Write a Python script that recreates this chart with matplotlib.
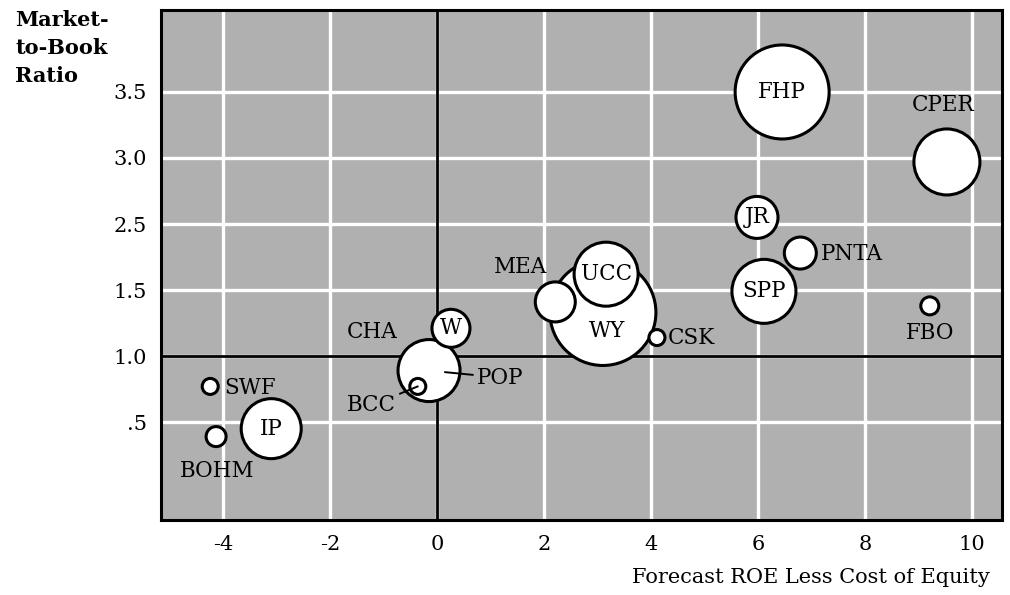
import matplotlib.pyplot as plt

# values (y is the position on the broken M/B axis)
companies = ['WY', 'FHP', 'CPER', 'UCC', 'SPP', 'POP', 'IP', 'JR', 'MEA', 'W',
             'PNTA', 'BOHM', 'FBO', 'SWF', 'CSK', 'BCC', 'CHA']
roe_spread = [3.10, 6.45, 9.53, 3.16, 6.11, -0.15, -3.10, 5.98, 2.21, 0.26,
              6.79, -4.13, 9.21, -4.24, 4.11, -0.36, 0.0]
mb_axis = [1.33, 3.00, 2.47, 1.62, 1.49, 0.89, 0.45, 2.05, 1.41, 1.21,
           1.78, 0.39, 1.38, 0.77, 1.14, 0.77, 1.08]
bubble_r = [53, 47, 33, 32, 32, 31, 30, 21, 20, 19, 16, 10, 9, 8, 8, 8, 0]  # px

xticks = [-4, -2, 0, 2, 4, 6, 8, 10]
ytick_pos = [0.5, 1.0, 1.5, 2.0, 2.5, 3.0]
ytick_labels = ['.5', '1.0', '1.5', '2.5', '3.0', '3.5']

# label placement: (dx px, dy px, ha), others centred inside bubble
label_pos = {
    'CPER': (-4, 57, 'center'), 'PNTA': (21, -1, 'left'), 'FBO': (0, -27, 'center'),
    'WY': (4, -19, 'center'), 'MEA': (-35, 35, 'center'), 'CSK': (11, 0, 'left'),
    'SWF': (14, -2, 'left'), 'BOHM': (1, -34, 'center'), 'CHA': (-65, 13, 'center'),
}
leaders = {'POP': (48, -7, 'left', 16), 'BCC': (-22, -19, 'right', 0)}

plt.rcParams['font.family'] = 'DejaVu Serif'
px = 0.72  # points per pixel at dpi 100
fs = 15.5

fig = plt.figure(figsize=(10.1, 5.95), dpi=100)
ax = fig.add_axes([0.1594, 0.126, 0.8327, 0.857])
ax.set_facecolor('#b0b0b0')
ax.set_xlim(-5.16, 10.56)
ax.set_ylim(-0.242, 3.62)
ax.set_xticks(xticks)
ax.set_xticklabels([str(t) for t in xticks])
ax.set_yticks(ytick_pos)
ax.set_yticklabels(ytick_labels)
ax.tick_params(length=0, labelsize=15)
ax.tick_params(axis='y', pad=10)
ax.tick_params(axis='x', pad=11)
ax.grid(True, color='white', lw=2.4)
ax.set_axisbelow(True)
ax.axvline(0, color='black', lw=2, zorder=1.5)
ax.axhline(1.0, color='black', lw=2, zorder=1.5)
for sp in ax.spines.values():
    sp.set_linewidth(2.2)
    sp.set_color('black')

sizes = [(2 * r * px) ** 2 for r in bubble_r]
ax.scatter(roe_spread, mb_axis, s=sizes, facecolor='white', edgecolor='black',
           linewidths=2.2, zorder=3)

for name, x, y in zip(companies, roe_spread, mb_axis):
    if name in leaders:
        dx, dy, ha, shrink = leaders[name]
        ax.annotate(name, (x, y), xytext=(dx * px, dy * px), textcoords='offset points',
                    ha=ha, va='center', fontsize=fs, zorder=5,
                    arrowprops=dict(arrowstyle='-', color='black', lw=1.4,
                                    shrinkA=1, shrinkB=shrink * px))
    elif name in label_pos:
        dx, dy, ha = label_pos[name]
        ax.annotate(name, (x, y), xytext=(dx * px, dy * px), textcoords='offset points',
                    ha=ha, va='center', fontsize=fs, zorder=5)
    else:
        ax.annotate(name, (x, y), ha='center', va='center', fontsize=fs, zorder=5)

fig.text(15 / 1010, 1 - 10 / 595, 'Market-\nto-Book\nRatio', ha='left', va='top',
         fontsize=15, fontweight='bold', linespacing=1.5)
fig.text(0.980, 0.029, 'Forecast ROE Less Cost of Equity', ha='right', va='center',
         fontsize=15)

fig.savefig('out.png', dpi=100)
